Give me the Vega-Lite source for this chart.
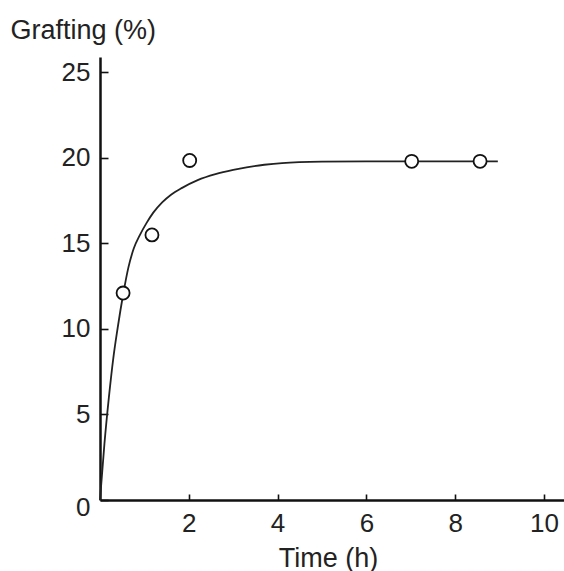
{
  "$schema": "https://vega.github.io/schema/vega-lite/v6.json",
  "width": 464,
  "height": 443,
  "autosize": "none",
  "padding": {"left": 100, "top": 57, "right": 0, "bottom": 71},
  "background": "white",
  "config": {
    "view": {"stroke": null},
    "axis": {
      "labelFont": "Liberation Sans",
      "titleFont": "Liberation Sans",
      "labelFontSize": 26,
      "titleFontSize": 27,
      "labelColor": "#222",
      "titleColor": "#222",
      "titleFontWeight": "normal",
      "domainColor": "#111",
      "domainWidth": 2.5,
      "tickColor": "#111",
      "tickWidth": 1.6,
      "grid": false
    }
  },
  "datasets": {
    "curve": [
      {"t": 0, "g": 0},
      {"t": 0.1, "g": 3.3},
      {"t": 0.2, "g": 6.0},
      {"t": 0.3, "g": 8.3},
      {"t": 0.4, "g": 10.1},
      {"t": 0.52, "g": 12.0},
      {"t": 0.64, "g": 13.6},
      {"t": 0.76, "g": 14.7},
      {"t": 0.9, "g": 15.5},
      {"t": 1.05, "g": 16.2},
      {"t": 1.2, "g": 16.8},
      {"t": 1.4, "g": 17.4},
      {"t": 1.6, "g": 17.85},
      {"t": 1.85, "g": 18.25},
      {"t": 2.2, "g": 18.7},
      {"t": 2.6, "g": 19.05},
      {"t": 3.0, "g": 19.3},
      {"t": 3.3, "g": 19.45},
      {"t": 3.7, "g": 19.6},
      {"t": 4.1, "g": 19.7},
      {"t": 5.0, "g": 19.78},
      {"t": 6.0, "g": 19.8},
      {"t": 7.0, "g": 19.8},
      {"t": 8.0, "g": 19.8},
      {"t": 8.96, "g": 19.8}
    ],
    "points": [
      {"t": 0.52, "g": 12.1},
      {"t": 1.17, "g": 15.5},
      {"t": 2.02, "g": 19.85},
      {"t": 7.02, "g": 19.8},
      {"t": 8.56, "g": 19.8}
    ]
  },
  "layer": [
    {
      "data": {"name": "curve"},
      "mark": {"type": "line", "interpolate": "monotone", "color": "#222", "strokeWidth": 1.8},
      "encoding": {
        "x": {
          "field": "t", "type": "quantitative",
          "scale": {"domain": [0, 10.45], "nice": false, "zero": false},
          "axis": {
            "values": [2, 4, 6, 8, 10],
            "tickSize": -6,
            "labelPadding": 16,
            "title": "Time (h)",
            "titleX": 228,
            "titleY": 66,
            "titleAnchor": null,
            "titleAlign": "center",
            "titleBaseline": "alphabetic"
          }
        },
        "y": {
          "field": "g", "type": "quantitative",
          "scale": {"domain": [0, 25.9], "nice": false, "zero": false},
          "axis": {
            "values": [0, 5, 10, 15, 20, 25],
            "tickSize": -8,
            "labelPadding": 18,
            "labelOffset": {"condition": {"test": "datum.value === 0", "value": 7}, "value": 0},
            "title": "Grafting (%)",
            "titleAngle": 0,
            "titleX": -90,
            "titleY": -19,
            "titleAlign": "left",
            "titleAnchor": null,
            "titleBaseline": "alphabetic"
          }
        }
      }
    },
    {
      "data": {"name": "points"},
      "mark": {"type": "point", "shape": "circle", "filled": false, "fill": "white", "fillOpacity": 1, "stroke": "#111", "strokeWidth": 1.8, "size": 170, "opacity": 1},
      "encoding": {
        "x": {"field": "t", "type": "quantitative"},
        "y": {"field": "g", "type": "quantitative"}
      }
    }
  ]
}
